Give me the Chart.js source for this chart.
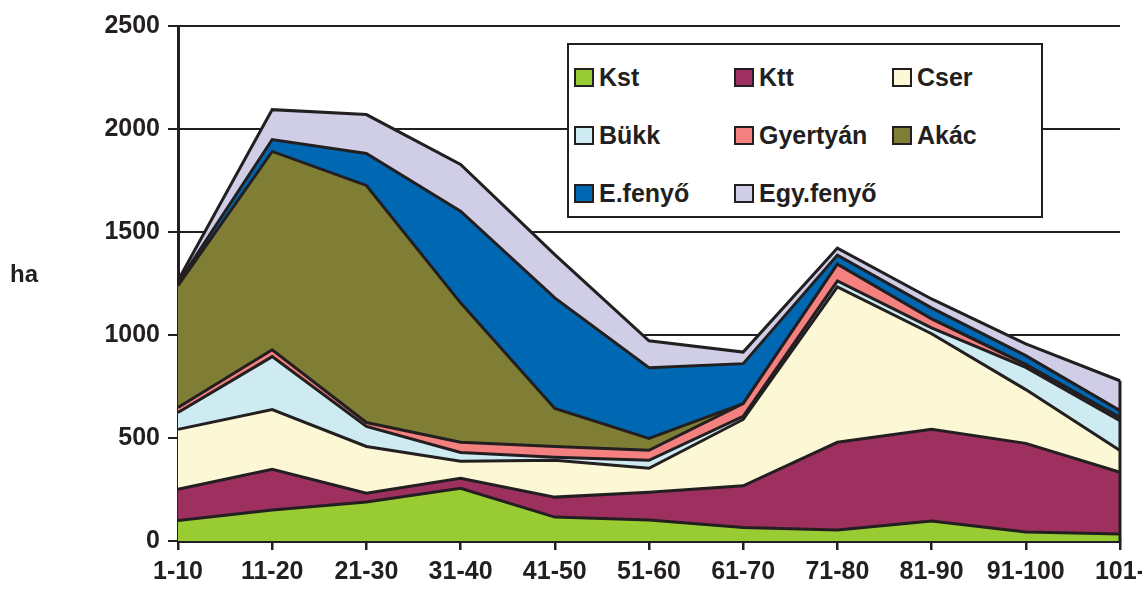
<!DOCTYPE html>
<html>
<head>
<meta charset="utf-8">
<script src="https://cdn.jsdelivr.net/npm/chart.js@4.4.1/dist/chart.umd.min.js"></script>
<style>
  html, body { margin: 0; padding: 0; background: #fff; overflow: hidden; }
  #wrap { position: relative; width: 1142px; height: 592px; overflow: hidden; }
  #chart { position: absolute; left: 0; top: 0; }
  .ylab {
    position: absolute; left: 10px; top: 260px;
    font: bold 24px "Liberation Sans", Arial, sans-serif; color: #231f20;
  }
  #legend {
    position: absolute; left: 567px; top: 43px; width: 476px; height: 175px;
    border: 2px solid #231f20; background: #fff;
    display: grid; grid-template-columns: 160px 158px 140px;
    grid-auto-rows: 58px; padding: 3px 0 0 5px; box-sizing: border-box;
    font: bold 25px "Liberation Sans", Arial, sans-serif; color: #231f20;
  }
  #legend .item { display: flex; align-items: center; }
  #legend .sw {
    width: 16px; height: 15px; border: 2px solid #231f20; margin-right: 5px;
  }
</style>
</head>
<body>
<div id="wrap">
  <canvas id="chart" width="1152" height="592"></canvas>
  <div class="ylab">ha</div>
  <div id="legend"></div>
</div>
<script>
// Korosztályok (év)
const labels = ["1-10", "11-20", "21-30", "31-40", "41-50", "51-60", "61-70", "71-80", "81-90", "91-100", "101-"]

// Területek fafajonként (ha), halmozva
const kst = [100, 150, 189, 256, 116, 102, 65, 53, 97, 44, 34]
const ktt = [151, 198, 43, 49, 97, 135, 203, 426, 445, 430, 300]
const cser = [291, 290, 227, 82, 179, 116, 322, 754, 464, 261, 105]
const bukk = [82, 257, 97, 43, 14, 39, 15, 29, 29, 108, 145]
const gyertyan = [24, 33, 19, 49, 53, 48, 62, 82, 43, 13, 15]
const akac = [592, 963, 1151, 677, 184, 58, 0, 0, 0, 0, 0]
const efenyo = [12, 58, 155, 445, 537, 343, 194, 44, 54, 44, 34]
const egyfenyo = [13, 145, 189, 227, 210, 131, 56, 34, 43, 57, 145]

const seriesNames = ["Kst", "Ktt", "Cser", "Bükk", "Gyertyán", "Akác", "E.fenyő", "Egy.fenyő"]
const seriesData = [kst, ktt, cser, bukk, gyertyan, akac, efenyo, egyfenyo]
const colors = ["#99CC33", "#9E3060", "#FCF8D5", "#CDEBF1", "#F58080", "#807E34", "#0068B2", "#CFCEE6"]

const ink = "#231f20"
const font = { family: "'Liberation Sans', Arial, sans-serif", size: 25, weight: "bold" }

const datasets = seriesNames.map((name, i) => ({
  label: name,
  data: seriesData[i],
  backgroundColor: colors[i],
  borderColor: ink,
  borderWidth: 3,
  borderJoinStyle: "miter",
  pointRadius: 0,
  tension: 0,
  fill: i === 0 ? "origin" : "-1",
}))

// jobb oldali függőleges él lezárása (mint az Excel területdiagramon)
const edgePlugin = {
  id: "edge",
  afterDatasetsDraw(chart) {
    const { ctx, scales } = chart
    const last = labels.length - 1
    const total = seriesData.reduce((s, arr) => s + arr[last], 0)
    const x = scales.x.getPixelForValue(last)
    ctx.save()
    ctx.strokeStyle = ink
    ctx.lineWidth = 3
    ctx.beginPath()
    ctx.moveTo(x, scales.y.getPixelForValue(total))
    ctx.lineTo(x, scales.y.getPixelForValue(0))
    ctx.stroke()
    ctx.restore()
  },
}

new Chart(document.getElementById("chart"), {
  type: "line",
  data: { labels, datasets },
  plugins: [edgePlugin],
  options: {
    responsive: false,
    animation: false,
    layout: { padding: { top: 26, right: 0, left: 0, bottom: 0 } },
    plugins: { legend: { display: false }, tooltip: { enabled: false } },
    scales: {
      x: {
        offset: false,
        grid: { drawOnChartArea: false, drawTicks: true, tickLength: 9, color: ink, lineWidth: 2.5 },
        border: { display: true, color: ink, width: 3 },
        ticks: { color: ink, font, padding: 7, maxRotation: 0, autoSkip: false },
        afterFit: (scale) => { scale.height = 51 },
      },
      y: {
        stacked: true,
        min: 0,
        max: 2500,
        grid: { color: ink, lineWidth: 2, tickLength: 10 },
        border: { display: true, color: ink, width: 3 },
        ticks: { stepSize: 500, color: ink, font, padding: 8, callback: (v) => String(v) },
        afterFit: (scale) => { scale.width = 178 },
      },
    },
  },
})

// Jelmagyarázat
const legend = document.getElementById("legend")
seriesNames.forEach((name, i) => {
  const item = document.createElement("div")
  item.className = "item"
  const sw = document.createElement("span")
  sw.className = "sw"
  sw.style.background = colors[i]
  item.appendChild(sw)
  item.appendChild(document.createTextNode(name))
  legend.appendChild(item)
})
</script>
</body>
</html>
